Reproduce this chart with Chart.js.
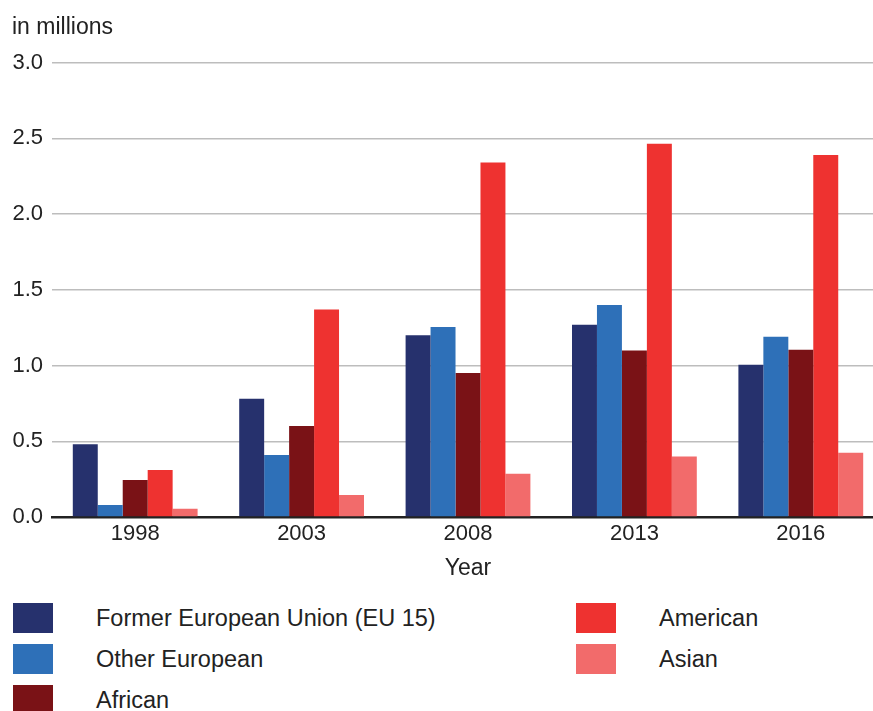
<!DOCTYPE html>
<html>
<head>
<meta charset="utf-8">
<script src="https://cdn.jsdelivr.net/npm/chart.js@4"></script>
<style>
  html, body { margin: 0; padding: 0; background: #fff; overflow: hidden; width: 873px; height: 711px; }
  #wrap { position: absolute; left: 0; top: 0; width: 885px; height: 590px; }
  #legend { position: absolute; left: 13px; top: 603px; display: grid; grid-template-columns: 563px 300px;
            grid-template-rows: repeat(3, 41px); grid-auto-flow: column;
            font-family: "Liberation Sans", Arial, sans-serif; font-size: 23.5px; color: #222; }
  .item { display: flex; align-items: flex-start; }
  .box { width: 40px; height: 30px; margin-right: 43px; flex: none; }
  .lbl { line-height: 31px; }
</style>
</head>
<body>
<div id="wrap"><canvas id="chart"></canvas></div>
<div id="legend"></div>
<script>
var years = ['1998', '2003', '2008', '2013', '2016'];
var seriesNames = ['Former European Union (EU 15)', 'Other European', 'African', 'American', 'Asian'];
var seriesColors = ['#26316d', '#2e70b8', '#7a1216', '#ee3230', '#f26b6b'];

var eu15 = [0.48, 0.78, 1.20, 1.27, 1.005];
var otherEuropean = [0.08, 0.41, 1.255, 1.40, 1.19];
var african = [0.245, 0.60, 0.95, 1.10, 1.105];
var american = [0.31, 1.37, 2.34, 2.465, 2.39];
var asian = [0.055, 0.145, 0.285, 0.40, 0.425];

var yTicks = [0, 0.5, 1.0, 1.5, 2.0, 2.5, 3.0];

var allSeries = [eu15, otherEuropean, african, american, asian];
var font = "'Liberation Sans', Arial, sans-serif";

var datasets = allSeries.map(function(vals, i) {
    return {
        label: seriesNames[i],
        data: vals,
        backgroundColor: seriesColors[i],
        borderWidth: 0,
        barPercentage: 1.0,
        categoryPercentage: 0.75
    };
});

var chart = new Chart(document.getElementById('chart'), {
    type: 'bar',
    data: { labels: years, datasets: datasets },
    options: {
        responsive: true,
        maintainAspectRatio: false,
        animation: false,
        layout: { padding: { left: 12, right: 1, top: 0, bottom: 8 } },
        scales: {
            x: {
                grid: { display: false, drawTicks: false },
                border: { display: true, color: '#222', width: 2.5 },
                ticks: { color: '#222', font: { family: font, size: 22 }, padding: 4 },
                title: { display: true, text: 'Year', color: '#222',
                         font: { family: font, size: 23 }, padding: { top: 3, bottom: 0 } }
            },
            y: {
                min: 0,
                max: 3,
                afterBuildTicks: function(axis) {
                    axis.ticks = yTicks.map(function(v) { return { value: v }; });
                },
                afterFit: function(axis) { axis.width = 40; },
                grid: { color: '#bdbdbd', lineWidth: 1.5, drawTicks: false },
                border: { display: false },
                ticks: {
                    color: '#222',
                    font: { family: font, size: 22 },
                    padding: 9,
                    callback: function(v) { return Number(v).toFixed(1); }
                }
            }
        },
        plugins: {
            legend: { display: false },
            tooltip: { enabled: false },
            title: {
                display: true,
                text: 'in millions',
                align: 'start',
                color: '#222',
                font: { family: font, size: 23, weight: 'normal' },
                padding: { top: 14, bottom: 21 }
            }
        }
    }
});

// html legend in two columns, built from the datasets
var legendEl = document.getElementById('legend');
chart.data.datasets.forEach(function(ds) {
    var item = document.createElement('div');
    item.className = 'item';
    item.innerHTML = '<span class="box" style="background:' + ds.backgroundColor + '"></span>' +
                     '<span class="lbl">' + ds.label + '</span>';
    legendEl.appendChild(item);
});
</script>
</body>
</html>
